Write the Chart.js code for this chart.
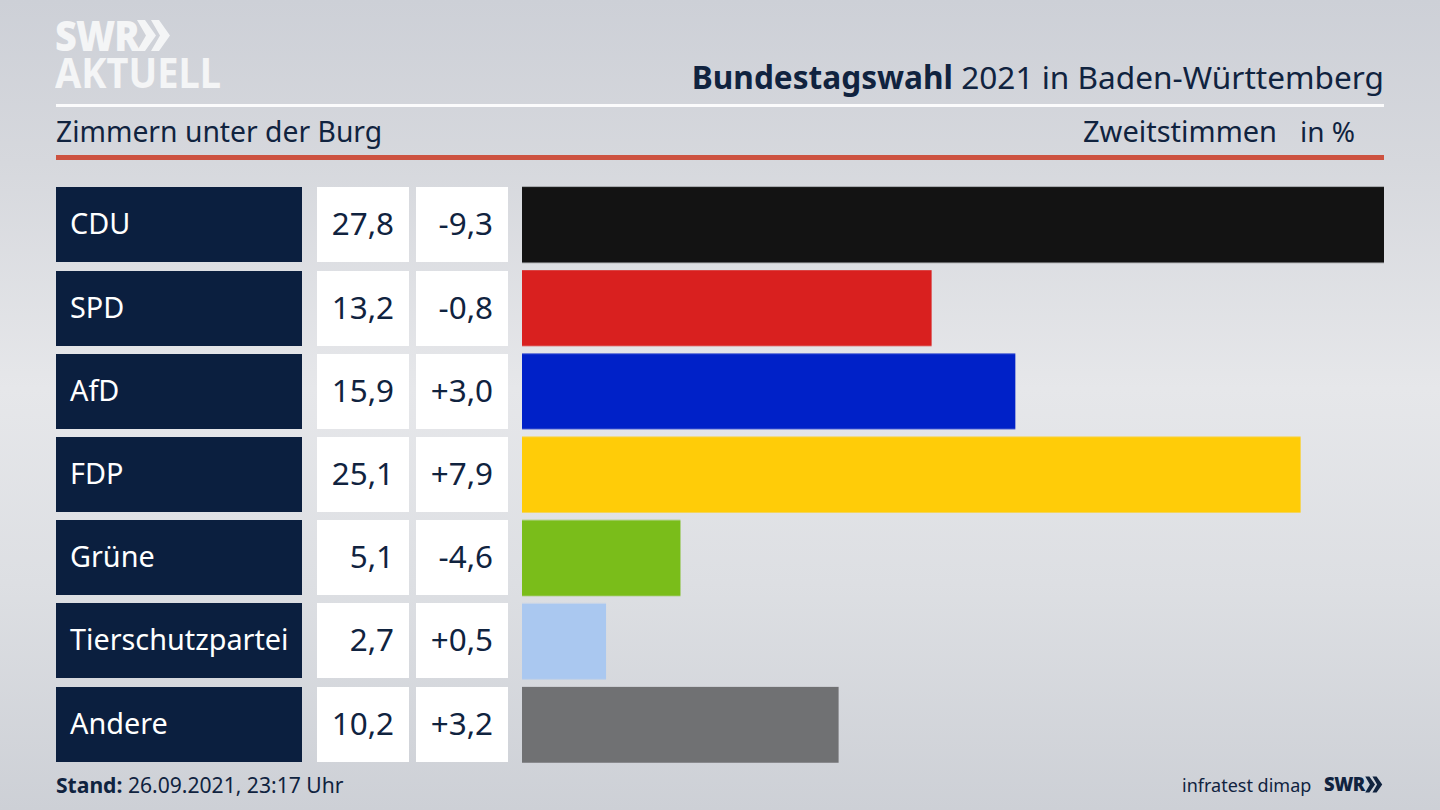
<!DOCTYPE html>
<html lang="de">
<head>
<meta charset="utf-8">
<title>Bundestagswahl 2021 in Baden-Württemberg</title>
<script src="https://cdn.jsdelivr.net/npm/chart.js@4/dist/chart.umd.min.js"></script>
<style>
  html, body { margin: 0; padding: 0; }
  body {
    position: relative; width: 1440px; height: 810px; overflow: hidden;
    font-family: "Noto Sans", sans-serif; color: #10233f;
    background: linear-gradient(180deg, #cdd0d7 0%, #d6d8dd 20%, #e6e7ea 48%, #dddfe3 72%, #cdd0d6 100%);
  }
  .abs { position: absolute; white-space: nowrap; }
  #chartBox { position: absolute; left: 522px; top: 183.3px; width: 862px; height: 582.4px; }
  .rule { position: absolute; left: 56px; width: 1328px; }
  .cell { position: absolute; height: 75px; line-height: 72px; box-sizing: border-box; }
  .name { left: 56px; width: 246px; background: #0b1f3f; color: #fff; padding-left: 14px; white-space: nowrap; font-size: 28.8px; }
  .num { background: #fff; color: #10233f; text-align: right; padding-right: 15px; width: 92px; font-size: 31.4px; }
  .val { left: 317px; }
  .chg { left: 416px; }
</style>
</head>
<body>
  <div class="abs" style="left:55px;top:8px;font-size:42px;font-weight:900;color:#f4f5f6;line-height:54px;letter-spacing:-1px;transform:scaleX(.9);transform-origin:left">SWR</div>
  <svg class="abs" style="left:137px;top:19px" width="34" height="33" viewBox="0 0 34 33">
    <polygon fill="#f4f5f6" points="0,1 8,1 19,16.5 8,32 0,32 9,16.5"/>
    <polygon fill="#f4f5f6" points="14,1 22,1 33,16.5 22,32 14,32 23,16.5"/>
  </svg>
  <div class="abs" style="left:55px;top:45px;font-size:42px;font-weight:700;color:#f4f5f6;line-height:54px;transform:scaleX(.905);transform-origin:left">AKTUELL</div>

  <div class="abs" style="right:56px;top:56px;font-size:31.6px;line-height:42px"><b>Bundestagswahl</b> 2021 in Baden-Württemberg</div>
  <div class="rule" style="top:104px;height:3px;background:#fbfbfc"></div>
  <div class="abs" style="left:56px;top:112px;font-size:28.3px;line-height:38px">Zimmern unter der Burg</div>
  <div class="abs" style="left:1083px;top:112px;font-size:29px;line-height:38px">Zweitstimmen</div>
  <div class="abs" style="left:1300px;top:112px;font-size:28px;line-height:38px">in %</div>
  <div class="rule" style="top:155px;height:5px;background:#cd5240"></div>

  <div id="rows"></div>
  <div id="chartBox"><canvas id="bars"></canvas></div>

  <div class="abs" style="left:56px;top:770px;font-size:21.1px;line-height:30px"><b>Stand:</b> 26.09.2021, 23:17 Uhr</div>
  <div class="abs" style="left:1182px;top:770px;font-size:18px;line-height:30px">infratest dimap</div>
  <div class="abs" style="left:1324px;top:769px;font-size:20px;font-weight:900;line-height:30px;letter-spacing:-0.5px;transform:scaleX(.92);transform-origin:left">SWR</div>
  <svg class="abs" style="left:1364px;top:776px" width="20" height="17" viewBox="0 0 34 33">
    <polygon fill="#10233f" points="0,1 8,1 19,16.5 8,32 0,32 9,16.5"/>
    <polygon fill="#10233f" points="14,1 22,1 33,16.5 22,32 14,32 23,16.5"/>
  </svg>

<script>
var parties = ['CDU', 'SPD', 'AfD', 'FDP', 'Grüne', 'Tierschutzpartei', 'Andere'];
var shares = [27.8, 13.2, 15.9, 25.1, 5.1, 2.7, 10.2];
var changes = [-9.3, -0.8, 3.0, 7.9, -4.6, 0.5, 3.2];
var barColors = ['#131313', '#d9201f', '#0021c8', '#ffcc08', '#7abd1a', '#aac8f0', '#707173'];

function fmt(v) { return v.toFixed(1).replace('.', ','); }
function fmtChange(v) { return (v > 0 ? '+' : '') + fmt(v); }

/* the table rows follow the chart's own category positions */
var tableRows = {
  id: 'tableRows',
  afterLayout: function (chart) {
    var box = document.getElementById('rows');
    var y0 = document.getElementById('chartBox').getBoundingClientRect().top;
    box.innerHTML = '';
    parties.forEach(function (name, i) {
      var y = y0 + chart.scales.y.getPixelForTick(i) - 37.5;
      [['cell name', name], ['cell num val', fmt(shares[i])], ['cell num chg', fmtChange(changes[i])]].forEach(function (c) {
        var el = document.createElement('div');
        el.className = c[0];
        el.textContent = c[1];
        el.style.top = y + 'px';
        box.appendChild(el);
      });
    });
  }
};

new Chart(document.getElementById('bars'), {
  type: 'bar',
  data: {
    labels: parties,
    datasets: [{
      data: shares,
      backgroundColor: barColors,
      barThickness: 75,
      borderWidth: 0
    }]
  },
  options: {
    indexAxis: 'y',
    responsive: true,
    maintainAspectRatio: false,
    animation: false,
    layout: { padding: 0 },
    plugins: { legend: { display: false }, tooltip: { enabled: false } },
    scales: {
      x: { display: false, min: 0, max: 27.8 },
      y: { display: false }
    }
  },
  plugins: [tableRows]
});
</script>
</body>
</html>
